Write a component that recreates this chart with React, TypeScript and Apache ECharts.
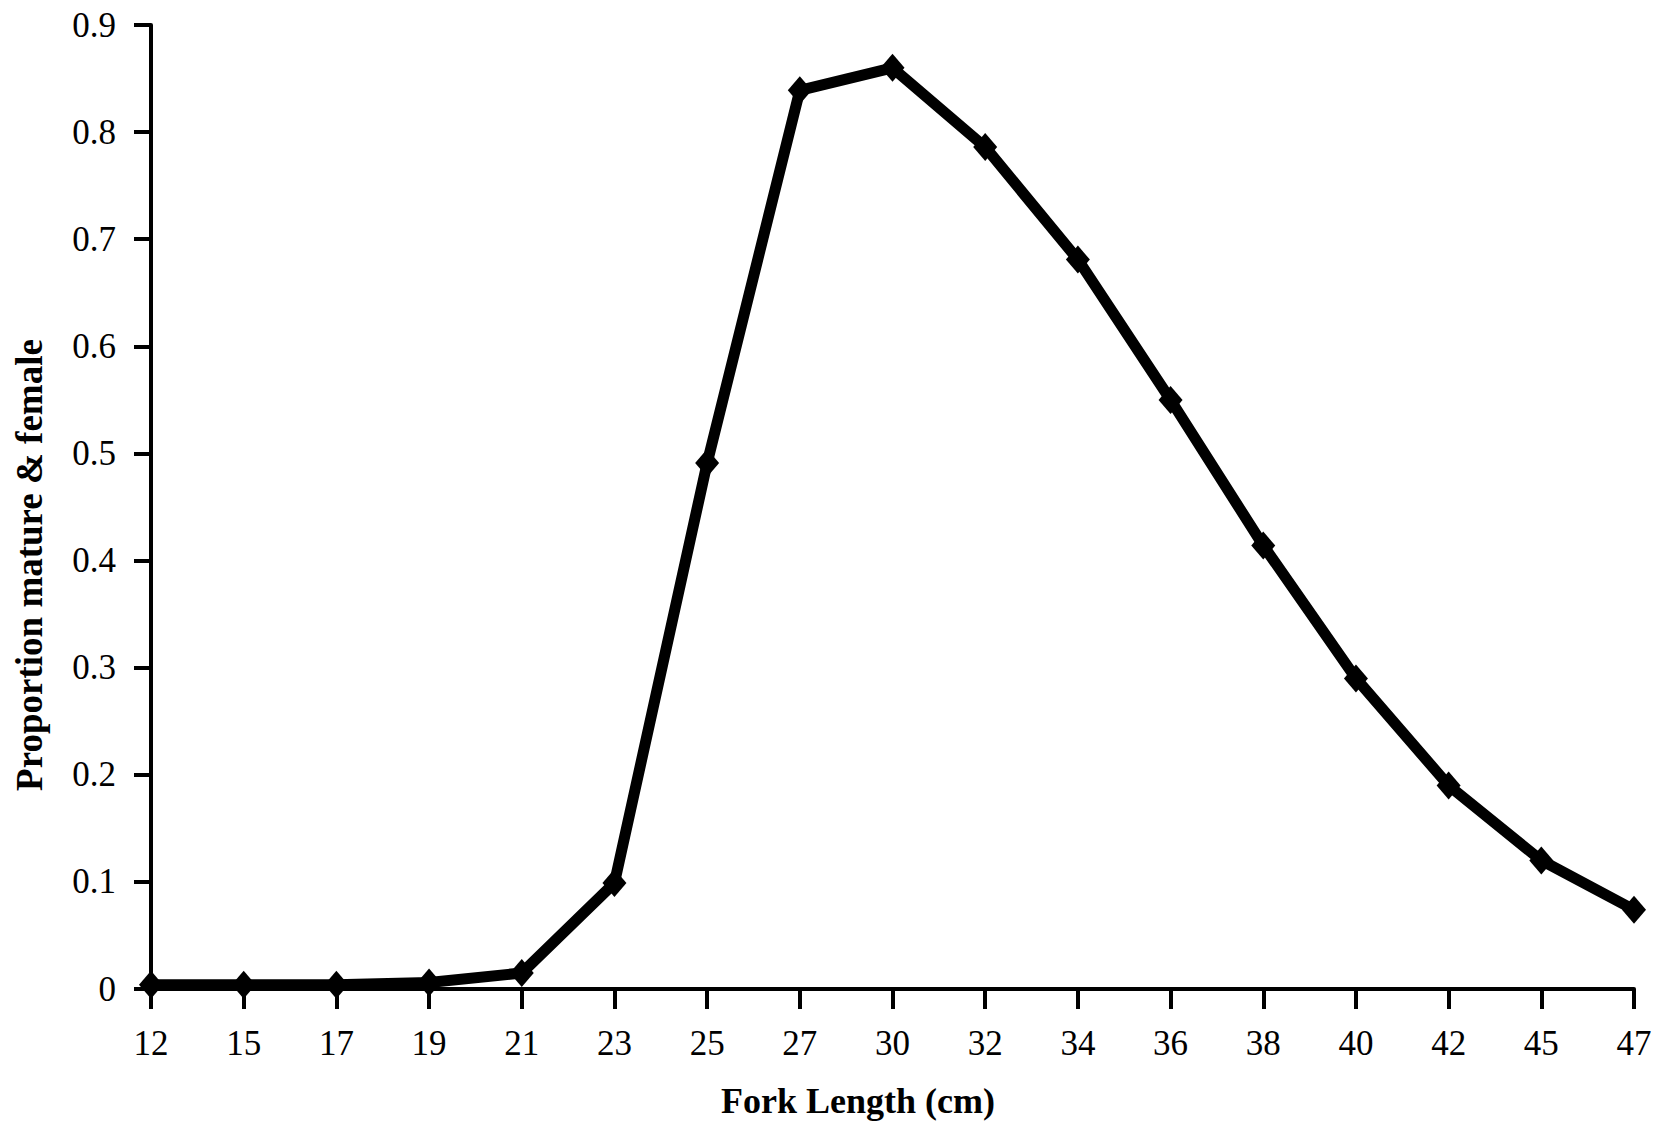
import React, { useEffect, useRef } from "react";
import * as echarts from "echarts";

const forkLengths = ["12", "15", "17", "19", "21", "23", "25", "27", "30", "32", "34", "36", "38", "40", "42", "45", "47"];
const proportionMatureFemale = [0.004, 0.004, 0.004, 0.006, 0.015, 0.099, 0.491, 0.839, 0.86, 0.786, 0.681, 0.55, 0.414, 0.29, 0.19, 0.12, 0.074];
const xTitle = "Fork Length (cm)";
const yTitle = "Proportion mature & female";

const FONT = "'Liberation Serif', 'Times New Roman', serif";

export default function App() {
  const ref = useRef<HTMLDivElement>(null);
  useEffect(() => {
    if (!ref.current) return;
    const chart = echarts.init(ref.current, null, { renderer: "svg" });
    chart.setOption({
      animation: false,
      backgroundColor: "#ffffff",
      grid: { left: 151, right: 32, top: 25, bottom: 135, containLabel: false },
      xAxis: {
        type: "category",
        data: forkLengths,
        boundaryGap: false,
        axisLine: { lineStyle: { color: "#000", width: 4 } },
        axisTick: { show: true, length: 20, alignWithLabel: true, lineStyle: { color: "#000", width: 4 } },
        axisLabel: { color: "#000", fontFamily: FONT, fontSize: 35, margin: 37 },
        splitLine: { show: false },
      },
      yAxis: {
        type: "value",
        min: 0,
        max: 0.9,
        interval: 0.1,
        axisLine: { show: true, lineStyle: { color: "#000", width: 4 } },
        axisTick: { show: true, length: 17, lineStyle: { color: "#000", width: 4 } },
        axisLabel: {
          color: "#000",
          fontFamily: FONT,
          fontSize: 35,
          margin: 35,
          formatter: (v: number) => (v === 0 ? "0" : String(Math.round(v * 10) / 10)),
        },
        splitLine: { show: false },
      },
      graphic: [
        {
          type: "text",
          x: 858,
          y: 1101,
          style: {
            text: xTitle,
            fill: "#000",
            font: `bold 36px ${FONT}`,
            align: "center",
            verticalAlign: "middle",
          },
        },
        {
          type: "text",
          x: 29,
          y: 565,
          rotation: Math.PI / 2,
          style: {
            text: yTitle,
            fill: "#000",
            font: `bold 37px ${FONT}`,
            align: "center",
            verticalAlign: "middle",
          },
        },
      ],
      series: [
        {
          type: "line",
          data: proportionMatureFemale,
          clip: false,
          symbol: "diamond",
          symbolSize: [24, 28],
          lineStyle: { color: "#000", width: 11 },
          itemStyle: { color: "#000" },
        },
      ],
    });
    return () => chart.dispose();
  }, []);
  return <div ref={ref} style={{ width: 1666, height: 1124, position: "absolute", left: 0, top: 0 }} />;
}
